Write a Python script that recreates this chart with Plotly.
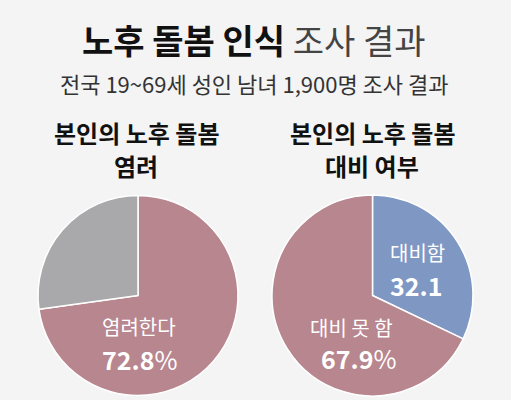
import plotly.graph_objects as go

# Data
concern_labels = ["염려한다", "염려하지 않는다"]
concern_values = [72.8, 27.2]
prepare_labels = ["대비함", "대비 못 함"]
prepare_values = [32.1, 67.9]

PINK = "#b8868f"
GRAY = "#a9a9ab"
BLUE = "#7f97c3"
BG = "#f4f4f4"
FONT = "Noto Sans CJK KR"
W, H = 511, 400

def px(x):
    return x / W

def py(y):
    return 1 - y / H

fig = go.Figure()
fig.add_trace(go.Pie(
    labels=concern_labels, values=concern_values, sort=False, direction="clockwise",
    rotation=0, textinfo="none", hoverinfo="label+value",
    marker=dict(colors=[PINK, GRAY], line=dict(color="white", width=1.5)),
    domain=dict(x=[px(38), px(238)], y=[py(396), py(195)]), showlegend=False,
))
fig.add_trace(go.Pie(
    labels=prepare_labels, values=prepare_values, sort=False, direction="clockwise",
    rotation=0, textinfo="none", hoverinfo="label+value",
    marker=dict(colors=[BLUE, PINK], line=dict(color="white", width=1.5)),
    domain=dict(x=[px(272), px(473)], y=[py(396), py(195)]), showlegend=False,
))

ann = []
def add(text, x, y, size, color, xanchor="center"):
    ann.append(dict(text=text, x=px(x), y=py(y), xref="paper", yref="paper",
                    xanchor=xanchor, yanchor="middle", showarrow=False,
                    font=dict(family=FONT, size=size, color=color)))

add("<b>노후 돌봄 인식</b> <span style='color:#444444'>조사 결과</span>", 254, 40, 34, "#111111")
add("전국 19~69세 성인 남녀 1,900명 조사 결과", 254, 83, 22, "#333333")
add("<b>본인의 노후 돌봄</b>", 136, 132, 24, "#111111")
add("<b>염려</b>", 136, 165, 24, "#111111")
add("<b>본인의 노후 돌봄</b>", 372, 132, 24, "#111111")
add("<b>대비 여부</b>", 372, 165, 24, "#111111")

add(concern_labels[0], 139, 326, 20, "white")
add(f"<b>{concern_values[0]}</b>%", 139, 359, 25, "white")
add(prepare_labels[0], 388, 252, 20, "white", xanchor="left")
add(f"<b>{prepare_values[0]}</b>", 388, 285, 25, "white", xanchor="left")
add(prepare_labels[1], 351, 327, 20, "white")
add(f"<b>{prepare_values[1]}</b>%", 358, 358, 25, "white")

fig.update_layout(
    width=W, height=H, margin=dict(l=0, r=0, t=0, b=0),
    paper_bgcolor=BG, plot_bgcolor=BG, annotations=ann,
    font=dict(family=FONT),
)
fig.write_html(
    "out.html",
    config={"displayModeBar": False},
    post_script="document.body.style.margin='0';document.body.style.overflow='hidden';document.body.style.background='#f4f4f4';",
)
